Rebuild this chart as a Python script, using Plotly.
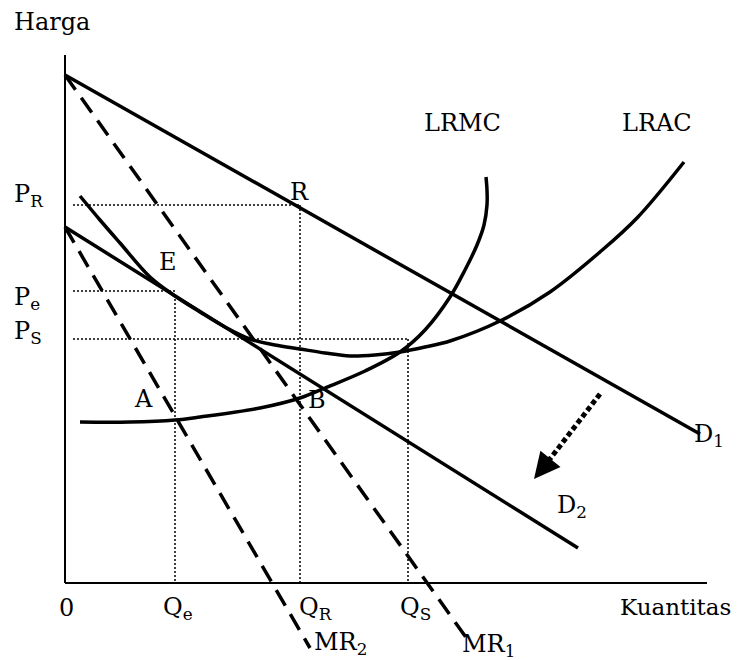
import plotly.graph_objects as go

# ---- data (Quantity, Price units; origin at the axes corner) ----
D1_q = [0, 635]
D1_p = [508, 149]
MR1_q = [0, 405]
MR1_p = [508, -60]
D2_q = [0, 513]
D2_p = [356, 35]
MR2_q = [0, 245]
MR2_p = [356, -65]

LRAC_q = [15, 35, 55, 85, 110, 135, 160, 185, 210, 235, 260, 285, 310, 335, 360, 385, 435, 485, 535, 572, 619]
LRAC_p = [387, 363, 340, 306, 287, 271, 256, 244, 238, 234, 230, 227, 228, 231, 236, 242, 262, 291, 331, 365, 421]

LRMC_q = [15, 65, 110, 135, 195, 235, 260, 300, 335, 360, 385, 400, 412, 419, 422, 422, 421]
LRMC_p = [161, 161, 163, 166, 175, 185, 195, 212, 231, 253, 286, 313, 338, 358, 378, 393, 406]

Q_e, Q_R, Q_S = 110, 235, 343
P_R, P_e, P_S = 378, 292, 244
guide_start = 8

shift_from = (535, 189)
shift_to = (469, 104)
arrow_tail = (478, 115)

X_MAX, Y_MAX = 642, 528

FONT = "DejaVu Serif"
BLACK = "black"

fig = go.Figure()

def line(q, p, width=3.5, dash="solid", shape="linear"):
    fig.add_trace(go.Scatter(x=q, y=p, mode="lines",
                             line=dict(color=BLACK, width=width, dash=dash, shape=shape),
                             hoverinfo="skip", showlegend=False))

# demand and MR
line(D1_q, D1_p)
line(D2_q, D2_p)
line(MR1_q, MR1_p, width=3.5, dash="18px,10px")
line(MR2_q, MR2_p, width=3.5, dash="18px,10px")
# cost curves
line(LRAC_q, LRAC_p, shape="spline")
line(LRMC_q, LRMC_p, shape="spline")

# dotted guides
dot = "2px,2px"
for pv, qv in [(P_R, Q_R), (P_e, Q_e), (P_S, Q_S)]:
    line([guide_start, qv], [pv, pv], width=1.5, dash=dot)
line([Q_R, Q_R], [P_R, 0], width=1.5, dash=dot)
line([Q_e, Q_e], [P_e - 8, 0], width=1.5, dash=dot)
line([Q_S, Q_S], [P_S, 0], width=1.5, dash=dot)

# shift arrow (dotted)
line([shift_from[0], arrow_tail[0]], [shift_from[1], arrow_tail[1]], width=5, dash="5px,3px")

shapes = [
    dict(type="line", xref="x", yref="y", x0=0, y0=0, x1=0, y1=Y_MAX, line=dict(color=BLACK, width=2)),
    dict(type="line", xref="x", yref="y", x0=0, y0=0, x1=X_MAX, y1=0, line=dict(color=BLACK, width=2)),
]

ann = []
def label(text, x, y, xanchor="center", size=24):
    ann.append(dict(text=text, x=x, y=y, xref="x", yref="y", xanchor=xanchor, yanchor="middle",
                    showarrow=False, font=dict(family=FONT, size=size, color=BLACK)))

label("Harga", -53, 561, xanchor="left")
label("LRMC", 397, 460)
label("LRAC", 592, 460)
label("P<sub>R</sub>", -53, 388, xanchor="left")
label("P<sub>e</sub>", -53, 285, xanchor="left")
label("P<sub>S</sub>", -53, 251, xanchor="left")
label("E", 103, 321)
label("R", 234, 391)
label("A", 78, 184)
label("B", 252, 183)
label("D<sub>1</sub>", 627, 148, xanchor="left")
label("D<sub>2</sub>", 490, 77, xanchor="left")
label("0", 1, -25)
label("Q<sub>e</sub>", 96, -25, xanchor="left")
label("Q<sub>R</sub>", 232, -25, xanchor="left")
label("Q<sub>S</sub>", 333, -25, xanchor="left")
label("Kuantitas", 553, -24, xanchor="left", size=23)
label("MR<sub>2</sub>", 247, -60, xanchor="left")
label("MR<sub>1</sub>", 395, -62, xanchor="left")

ann.append(dict(text="", x=shift_to[0], y=shift_to[1], ax=arrow_tail[0], ay=arrow_tail[1],
                xref="x", yref="y", axref="x", ayref="y", showarrow=True,
                arrowhead=2, arrowsize=1.3, arrowwidth=4, arrowcolor=BLACK))

# page body has an 8px margin, so the figure is 8px smaller and its ranges start 8px in
fig.update_layout(
    width=734, height=652, autosize=False,
    margin=dict(l=0, r=0, t=0, b=0),
    paper_bgcolor="white", plot_bgcolor="white",
    xaxis=dict(range=[-57, 677], visible=False, fixedrange=True),
    yaxis=dict(range=[-77, 575], visible=False, fixedrange=True),
    shapes=shapes, annotations=ann,
)

fig.write_html("out.html")
